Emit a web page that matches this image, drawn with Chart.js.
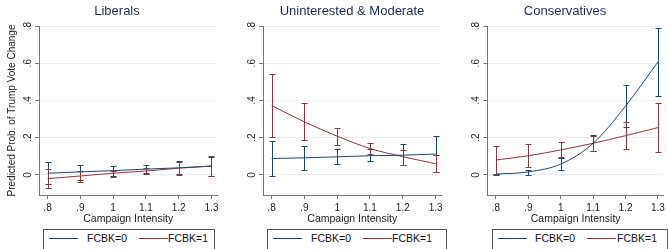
<!DOCTYPE html>
<html>
<head>
<meta charset="utf-8">
<script src="https://cdn.jsdelivr.net/npm/chart.js@4.4.1/dist/chart.umd.min.js"></script>
<style>
  body { margin: 0; background: #fff; }
  #wrap { position: relative; width: 668px; height: 249px; overflow: hidden; background: #fff; font-family: "Liberation Sans", Arial, sans-serif; }
  canvas { position: absolute; top: 0; }
  .title { position: absolute; top: 3px; font-size: 13px; line-height: 15px; color: #1b2d4f; transform: translateX(-50%); white-space: nowrap; }
  .legend { position: absolute; top: 229px; height: 26px; border: 1px solid #555; box-sizing: border-box; }
  .legend .ln { position: absolute; top: 8px; width: 29px; height: 0; border-top: 1px solid; }
  .legend .tx { position: absolute; top: 2px; font-size: 10.5px; line-height: 12px; color: #111; white-space: nowrap; }
</style>
</head>
<body>
<div id="wrap">
  <canvas id="libChart" width="222" height="228" style="left:0px"></canvas>
  <canvas id="modChart" width="224" height="228" style="left:222px"></canvas>
  <canvas id="conChart" width="222" height="228" style="left:446px"></canvas>

  <div class="title" style="left:117px">Liberals</div>
  <div class="title" style="left:352px">Uninterested &amp; Moderate</div>
  <div class="title" style="left:565px">Conservatives</div>

  <div class="legend" style="left:43px;width:172px">
    <div class="ln" style="left:5px;border-color:#1a476f"></div><div class="tx" style="left:43px">FCBK=0</div>
    <div class="ln" style="left:95px;border-color:#90353b"></div><div class="tx" style="left:124px">FCBK=1</div>
  </div>
  <div class="legend" style="left:267px;width:180px">
    <div class="ln" style="left:5px;border-color:#1a476f"></div><div class="tx" style="left:43px">FCBK=0</div>
    <div class="ln" style="left:95px;border-color:#90353b"></div><div class="tx" style="left:124px">FCBK=1</div>
  </div>
  <div class="legend" style="left:492px;width:176px">
    <div class="ln" style="left:5px;border-color:#1a476f"></div><div class="tx" style="left:42px">FCBK=0</div>
    <div class="ln" style="left:94px;border-color:#90353b"></div><div class="tx" style="left:124px">FCBK=1</div>
  </div>
</div>
<script>
const intensity = [0.8, 0.9, 1.0, 1.1, 1.2, 1.3];
const xTickLabels = [".8", ".9", "1", "1.1", "1.2", "1.3"];
const yTicks = [0, 0.2, 0.4, 0.6, 0.8];
const yTickLabels = ["0", ".2", ".4", ".6", ".8"];

// Liberals
const libFb0 = [0.009, 0.016, 0.023, 0.031, 0.038, 0.047];
const libFb0Lo = [-0.05, -0.029, -0.004, 0.009, 0.005, -0.005];
const libFb0Hi = [0.068, 0.055, 0.048, 0.052, 0.072, 0.098];
const libFb1 = [-0.02, -0.006, 0.009, 0.021, 0.036, 0.048];
const libFb1Lo = [-0.072, -0.039, -0.009, 0.005, 0.002, -0.007];
const libFb1Hi = [0.032, 0.023, 0.02, 0.036, 0.07, 0.102];

// Uninterested & Moderate
const modFb0 = [0.088, 0.092, 0.097, 0.103, 0.106, 0.112];
const modFb0Lo = [-0.006, 0.028, 0.058, 0.072, 0.053, 0.015];
const modFb0Hi = [0.183, 0.157, 0.137, 0.137, 0.165, 0.208];
const modFb1 = [0.373, 0.285, 0.208, 0.142, 0.098, 0.06];
const modFb1Lo = [0.202, 0.185, 0.158, 0.11, 0.051, 0.015];
const modFb1Hi = [0.543, 0.385, 0.253, 0.174, 0.135, 0.105];

// Conservatives
const conFb0 = [0.004, 0.016, 0.058, 0.17, 0.37, 0.607];
const conFb0Lo = [0.001, -0.003, 0.025, 0.13, 0.26, 0.425];
const conFb0Hi = [0.006, 0.029, 0.09, 0.213, 0.481, 0.791];
const conFb1 = [0.08, 0.103, 0.134, 0.17, 0.211, 0.254];
const conFb1Lo = [0.004, 0.043, 0.094, 0.13, 0.137, 0.124];
const conFb1Hi = [0.153, 0.164, 0.175, 0.21, 0.283, 0.386];

const BLUE = "#1a476f";
const RED = "#90353b";
const AXIS = "#777";

Chart.defaults.font.family = '"Liberation Sans", Arial, sans-serif';
Chart.defaults.color = "#222";

const errorBars = {
  id: "errorBars",
  beforeDatasetsDraw(chart) {
    const { ctx, scales: { x, y } } = chart;
    chart.data.datasets.forEach(ds => {
      ctx.save();
      ctx.strokeStyle = ds.borderColor;
      ctx.lineWidth = 1;
      ds.lo.forEach((lo, i) => {
        const px = Math.round(x.getPixelForValue(intensity[i])) + 0.5;
        const top = Math.round(y.getPixelForValue(ds.hi[i])) + 0.5;
        const bot = Math.round(y.getPixelForValue(lo)) + 0.5;
        ctx.beginPath();
        ctx.moveTo(px, top);
        ctx.lineTo(px, bot);
        ctx.moveTo(px - 3, top);
        ctx.lineTo(px + 3, top);
        ctx.moveTo(px - 3, bot);
        ctx.lineTo(px + 3, bot);
        ctx.stroke();
      });
      ctx.restore();
    });
  }
};

function series(label, values, lo, hi, color) {
  return {
    label,
    data: intensity.map((v, i) => ({ x: v, y: values[i] })),
    lo,
    hi,
    borderColor: color,
    borderWidth: 1,
    pointRadius: 0,
    cubicInterpolationMode: "monotone",
    fill: false
  };
}

function makePanel(id, sets, axisWidth, padRight, yTitle) {
  const canvas = document.getElementById(id);
  return new Chart(canvas, {
    type: "line",
    data: { datasets: sets },
    plugins: [errorBars],
    options: {
      responsive: false,
      animation: false,
      layout: { padding: { top: 26, right: padRight, left: 0, bottom: 0 } },
      plugins: { legend: { display: false }, tooltip: { enabled: false } },
      scales: {
        x: {
          type: "linear",
          min: 0.774,
          max: 1.318,
          afterBuildTicks: scale => { scale.ticks = intensity.map(v => ({ value: v })); },
          afterFit: scale => { scale.height = 33; },
          ticks: {
            callback: (v, i) => xTickLabels[i],
            autoSkip: false,
            maxRotation: 0,
            padding: 3,
            font: { size: 10 },
            color: "#222"
          },
          grid: { drawOnChartArea: false, tickLength: 4, color: AXIS },
          border: { color: AXIS },
          title: {
            display: true,
            text: "Campaign Intensity",
            font: { size: 10.5 },
            color: "#222",
            padding: { top: 0, bottom: 3 }
          }
        },
        y: {
          min: -0.108,
          max: 0.8,
          afterBuildTicks: scale => { scale.ticks = yTicks.map(v => ({ value: v })); },
          afterFit: scale => { scale.width = axisWidth; },
          ticks: {
            callback: (v, i) => yTickLabels[i],
            minRotation: 90,
            maxRotation: 90,
            crossAlign: "center",
            padding: 3,
            font: { size: 10 },
            color: "#222"
          },
          grid: { color: "#e8eff1", tickColor: AXIS, tickLength: 4 },
          border: { color: AXIS },
          title: {
            display: !!yTitle,
            text: yTitle || "",
            font: { size: 10 },
            color: "#222",
            padding: { top: 6, bottom: 0 }
          }
        }
      }
    }
  });
}

makePanel("libChart", [
  series("FCBK=0", libFb0, libFb0Lo, libFb0Hi, BLUE),
  series("FCBK=1", libFb1, libFb1Lo, libFb1Hi, RED)
], 39, 4.6, "Predicted Prob. of Trump Vote Change");

makePanel("modChart", [
  series("FCBK=0", modFb0, modFb0Lo, modFb0Hi, BLUE),
  series("FCBK=1", modFb1, modFb1Lo, modFb1Hi, RED)
], 41, 4.5, null);

makePanel("conChart", [
  series("FCBK=0", conFb0, conFb0Lo, conFb0Hi, BLUE),
  series("FCBK=1", conFb1, conFb1Lo, conFb1Hi, RED)
], 41.5, 2, null);
</script>
</body>
</html>
